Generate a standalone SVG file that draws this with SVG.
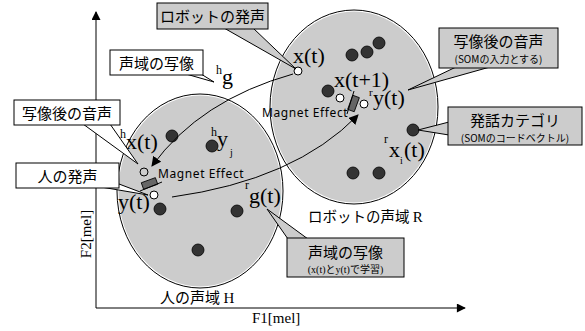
<svg xmlns="http://www.w3.org/2000/svg" width="585" height="331" viewBox="0 0 585 331">
<defs>
<style>
.ser{font-family:"Liberation Serif","Noto Sans CJK JP",serif;fill:#000}
.jp{font-family:"Noto Sans CJK JP","Noto Sans",sans-serif;fill:#000}
.me{font-family:"Noto Sans","DejaVu Sans",sans-serif;fill:#000;letter-spacing:0.6px}
.box{stroke:#000;stroke-width:1}
.dot{fill:#333;stroke:#000;stroke-width:0.8}
.oc{fill:#fff;stroke:#000;stroke-width:1}
.ln{fill:none;stroke:#000;stroke-width:1}
</style>
<marker id="ah" viewBox="0 0 10 10" refX="9" refY="5" markerWidth="10" markerHeight="10" markerUnits="userSpaceOnUse" orient="auto">
<path d="M0,0 L10,5 L0,10 z" fill="#000"/>
</marker>
<marker id="ax" viewBox="0 0 10 10" refX="9" refY="5" markerWidth="12" markerHeight="9" markerUnits="userSpaceOnUse" orient="auto">
<path d="M0,0 L10,5 L0,10 z" fill="#000"/>
</marker>
</defs>

<g id="axes">
<line class="ln" x1="96" y1="308" x2="96" y2="12" marker-end="url(#ax)"/>
<line class="ln" x1="96" y1="308" x2="465" y2="308" marker-end="url(#ax)"/>
<text class="ser" x="252" y="323" font-size="15">F1[mel]</text>
<text class="ser" x="0" y="0" font-size="15" text-anchor="middle" transform="translate(91,234) rotate(-90)">F2[mel]</text>
</g>

<g id="regions">
<ellipse cx="200" cy="191" rx="83" ry="97" fill="#ccc"/>
<ellipse cx="354" cy="107" rx="84" ry="97" fill="#ccc"/>
<ellipse cx="200" cy="191" rx="83" ry="97" fill="none" stroke="#fff" stroke-width="3"/>
<ellipse cx="354" cy="107" rx="84" ry="97" fill="none" stroke="#fff" stroke-width="3"/>
<ellipse cx="200" cy="191" rx="83" ry="97" fill="none" stroke="#000" stroke-width="1"/>
<ellipse cx="354" cy="107" rx="84" ry="97" fill="none" stroke="#000" stroke-width="1"/>
<text class="jp" x="160" y="303" font-size="15">人の声域 <tspan class="ser" font-size="15">H</tspan></text>
<text class="jp" x="308" y="222" font-size="14.5">ロボットの声域 <tspan class="ser" font-size="15">R</tspan></text>
</g>

<g id="points">
<circle class="dot" cx="172" cy="136" r="6"/>
<circle class="dot" cx="212" cy="146" r="6"/>
<circle class="dot" cx="160" cy="209" r="6"/>
<circle class="dot" cx="237" cy="211" r="6"/>
<circle class="dot" cx="198" cy="250" r="6"/>
<circle class="dot" cx="352" cy="55" r="6"/>
<circle class="dot" cx="367" cy="52" r="6"/>
<circle class="dot" cx="379" cy="43" r="6"/>
<circle class="dot" cx="328" cy="91" r="6"/>
<circle class="dot" cx="413" cy="130" r="6"/>
<circle class="dot" cx="353" cy="173" r="6"/>
<circle class="dot" cx="379" cy="173" r="6"/>
<circle class="oc" cx="298" cy="71" r="4"/>
<circle class="oc" cx="340" cy="98" r="4"/>
<circle class="oc" cx="364" cy="104" r="4"/>
<circle cx="144" cy="172" r="4" fill="#ccc" stroke="#000" stroke-width="1"/>
<circle class="oc" cx="154" cy="195" r="4"/>
</g>

<g id="magnet">
<rect x="142" y="180" width="15" height="7" fill="#666" stroke="#000" stroke-width="0.8" transform="rotate(-20 149.5 183.5)"/>
<line class="ln" x1="140" y1="191" x2="162" y2="182"/>
<text class="me" x="158" y="178" font-size="12">Magnet Effect</text>
<rect x="350" y="96" width="7" height="15" fill="#666" stroke="#000" stroke-width="0.8" transform="rotate(20 353.5 103.5)"/>
<line class="ln" x1="347" y1="114" x2="354" y2="91"/>
<text class="me" x="262" y="117" font-size="12">Magnet Effect</text>
</g>

<g id="connectors">
<path class="ln" d="M293,74 Q200,100 152,166" marker-end="url(#ah)"/>
<path class="ln" d="M172,197 Q295,180 358,115" marker-end="url(#ah)"/>
</g>

<g id="labels">
<text class="ser" x="293" y="63" font-size="22">x(t)</text>
<text class="ser" x="334" y="87" font-size="22">x(t+1)</text>
<text class="ser" x="369" y="96" font-size="11">r</text>
<text class="ser" x="373" y="105" font-size="22">y(t)</text>
<text class="ser" x="384" y="143" font-size="12">r</text>
<text class="ser" x="389" y="157" font-size="22">x</text>
<text class="ser" x="400" y="164" font-size="10">i</text>
<text class="ser" x="404" y="157" font-size="22">(t)</text>
<text class="ser" x="120" y="138" font-size="12">h</text>
<text class="ser" x="126" y="149" font-size="22">x(t)</text>
<text class="ser" x="211" y="136" font-size="12">h</text>
<text class="ser" x="217" y="146" font-size="22">y</text>
<text class="ser" x="230" y="156" font-size="10">j</text>
<text class="ser" x="118" y="209" font-size="22">y(t)</text>
<text class="ser" x="245" y="189" font-size="12">r</text>
<text class="ser" x="249" y="203" font-size="22">g(t)</text>
<text class="ser" x="216" y="74" font-size="12">h</text>
<text class="ser" x="222" y="84" font-size="22">g</text>
</g>

<g id="c-robot">
<polygon points="224,28 253,28 296,69" fill="#ccc" stroke="#000" stroke-width="1"/>
<rect class="box" x="157" y="3" width="111" height="26" fill="#ccc"/>
<text class="jp" x="212.5" y="22" font-size="15" text-anchor="middle">ロボットの発声</text>
</g>

<g id="c-map1">
<polygon points="186,74 201,74 214,82" fill="#fff" stroke="#000" stroke-width="1"/>
<rect class="box" x="110" y="50" width="93" height="25" fill="#fff"/>
<text class="jp" x="156.5" y="68.5" font-size="15" text-anchor="middle">声域の写像</text>
</g>

<g id="c-after-left">
<polygon points="83,124 110,124 138,164" fill="#fff" stroke="#000" stroke-width="1"/>
<rect class="box" x="14" y="100" width="106" height="25" fill="#fff"/>
<text class="jp" x="67" y="118.5" font-size="15" text-anchor="middle">写像後の音声</text>
</g>

<g id="c-human">
<polygon points="101,187 119,184 148,195" fill="#fff" stroke="#000" stroke-width="1"/>
<rect class="box" x="16" y="163" width="103" height="25" fill="#fff"/>
<text class="jp" x="67.5" y="181.5" font-size="15" text-anchor="middle">人の発声</text>
</g>

<g id="c-after-right">
<polygon points="456,67 490,67 408,90" fill="#ccc" stroke="#000" stroke-width="1"/>
<rect class="box" x="439" y="28" width="119" height="40" fill="#ccc"/>
<text class="jp" x="498.5" y="47" font-size="15" text-anchor="middle">写像後の音声</text>
<text class="jp" x="498.5" y="63" font-size="10" text-anchor="middle">(SOMの入力とする)</text>
</g>

<g id="c-category">
<polygon points="418,130 449,122 449,135" fill="#ccc" stroke="#000" stroke-width="1"/>
<rect class="box" x="448" y="107" width="134" height="38" fill="#ccc"/>
<text class="jp" x="515" y="125.5" font-size="15" text-anchor="middle">発話カテゴリ</text>
<text class="jp" x="515" y="141.5" font-size="10" text-anchor="middle">(SOMのコードベクトル)</text>
</g>

<g id="c-map2">
<polygon points="267,209 288,239 308,239" fill="#ccc" stroke="#000" stroke-width="1"/>
<rect class="box" x="287" y="238" width="117" height="39" fill="#ccc"/>
<text class="jp" x="345.5" y="258" font-size="15" text-anchor="middle">声域の写像</text>
<text class="ser" x="345.5" y="273" font-size="10" text-anchor="middle">(x(t)とy(t)で学習)</text>
</g>
</svg>
